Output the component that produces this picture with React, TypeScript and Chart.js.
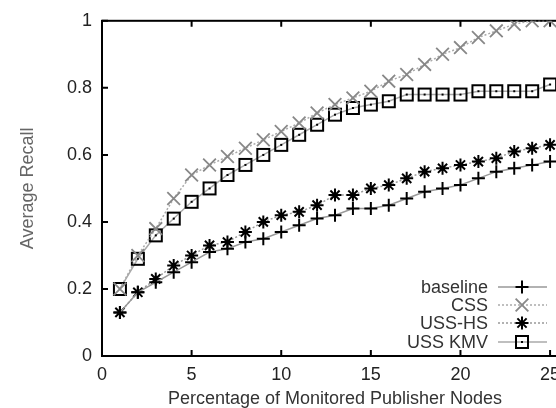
import { useEffect, useRef } from "react";
import { Chart, registerables } from "chart.js";
Chart.register(...registerables);

const xValues = [1, 2, 3, 4, 5, 6, 7, 8, 9, 10, 11, 12, 13, 14, 15, 16, 17, 18, 19, 20, 21, 22, 23, 24, 25];
const baselineValues = [0.13, 0.19, 0.22, 0.25, 0.28, 0.31, 0.32, 0.34, 0.35, 0.37, 0.39, 0.41, 0.42, 0.44, 0.44, 0.45, 0.47, 0.49, 0.5, 0.51, 0.53, 0.55, 0.56, 0.57, 0.58];
const cssValues = [0.2, 0.3, 0.38, 0.47, 0.54, 0.57, 0.595, 0.62, 0.645, 0.67, 0.695, 0.725, 0.75, 0.77, 0.79, 0.82, 0.84, 0.87, 0.9, 0.92, 0.95, 0.97, 0.99, 1.0, 1.0];
const ussHsValues = [0.13, 0.19, 0.23, 0.27, 0.3, 0.33, 0.34, 0.37, 0.4, 0.42, 0.43, 0.45, 0.48, 0.48, 0.5, 0.51, 0.53, 0.55, 0.56, 0.57, 0.58, 0.59, 0.61, 0.62, 0.63];
const ussKmvValues = [0.2, 0.29, 0.36, 0.41, 0.46, 0.5, 0.54, 0.57, 0.6, 0.63, 0.66, 0.69, 0.72, 0.74, 0.75, 0.76, 0.78, 0.78, 0.78, 0.78, 0.79, 0.79, 0.79, 0.79, 0.81];
const seriesLabels = ["baseline", "CSS", "USS-HS", "USS KMV"];
const xTickValues = [0, 5, 10, 15, 20, 25];
const yTickValues = [0, 0.2, 0.4, 0.6, 0.8, 1];
const yTickLabels = ["0", "0.2", "0.4", "0.6", "0.8", "1"];
const xTitle = "Percentage of Monitored Publisher Nodes";
const yTitle = "Average Recall";

const FONT = "'Liberation Sans', Arial, sans-serif";

function makeSquareStyle(): HTMLCanvasElement {
  const c = document.createElement("canvas");
  c.width = 16;
  c.height = 16;
  const g = c.getContext("2d")!;
  g.strokeStyle = "#000";
  g.lineWidth = 2;
  g.strokeRect(2, 2, 12, 12);
  g.fillStyle = "#000";
  g.fillRect(7, 7, 2, 2);
  return c;
}

function drawMarker(ctx: CanvasRenderingContext2D, style: any, x: number, y: number, r: number, color: string, lw: number) {
  ctx.save();
  ctx.strokeStyle = color;
  ctx.lineWidth = lw;
  ctx.setLineDash([]);
  if (typeof style !== "string") {
    ctx.drawImage(style, x - style.width / 2, y - style.height / 2);
    ctx.restore();
    return;
  }
  ctx.beginPath();
  if (style === "cross" || style === "star") {
    ctx.moveTo(x - r, y);
    ctx.lineTo(x + r, y);
    ctx.moveTo(x, y - r);
    ctx.lineTo(x, y + r);
  }
  if (style === "crossRot" || style === "star") {
    const d = r * Math.SQRT1_2;
    ctx.moveTo(x - d, y - d);
    ctx.lineTo(x + d, y + d);
    ctx.moveTo(x - d, y + d);
    ctx.lineTo(x + d, y - d);
  }
  ctx.stroke();
  ctx.restore();
}

const framePlugin = {
  id: "frameTicks",
  beforeDatasetsDraw(chart: any) {
    const { ctx, chartArea: a, scales } = chart;
    ctx.save();
    ctx.strokeStyle = "#000";
    ctx.lineWidth = 2;
    ctx.setLineDash([]);
    ctx.strokeRect(a.left, a.top, a.right - a.left, a.bottom - a.top);
    const tl = 6;
    ctx.beginPath();
    for (const v of xTickValues) {
      const px = scales.x.getPixelForValue(v);
      ctx.moveTo(px, a.bottom);
      ctx.lineTo(px, a.bottom - tl);
      ctx.moveTo(px, a.top);
      ctx.lineTo(px, a.top + tl);
    }
    for (const v of yTickValues) {
      const py = scales.y.getPixelForValue(v);
      ctx.moveTo(a.left, py);
      ctx.lineTo(a.left + tl, py);
      ctx.moveTo(a.right, py);
      ctx.lineTo(a.right - tl, py);
    }
    ctx.stroke();
    ctx.restore();
  },
};

const legendPlugin = {
  id: "gnuLegend",
  afterDatasetsDraw(chart: any) {
    const { ctx } = chart;
    const textRight = 488;
    const lineStart = 498;
    const lineEnd = 547;
    const markX = 522;
    const rowY = [287, 305, 323, 342];
    ctx.save();
    ctx.font = `18px ${FONT}`;
    ctx.textAlign = "right";
    ctx.textBaseline = "middle";
    chart.data.datasets.forEach((ds: any, i: number) => {
      const y = rowY[i];
      ctx.fillStyle = "#333";
      ctx.fillText(ds.label, textRight, y + 1);
      ctx.save();
      ctx.strokeStyle = ds.borderColor;
      ctx.lineWidth = ds.borderWidth;
      ctx.setLineDash(ds.borderDash || []);
      ctx.beginPath();
      ctx.moveTo(lineStart, y);
      ctx.lineTo(lineEnd, y);
      ctx.stroke();
      ctx.restore();
      drawMarker(ctx, ds.pointStyle, markX, y, ds.pointRadius, ds.pointBorderColor, ds.pointBorderWidth);
    });
    ctx.restore();
  },
};

export default function App() {
  const ref = useRef<HTMLCanvasElement | null>(null);
  useEffect(() => {
    if (!ref.current) return;
    const square = makeSquareStyle();
    const toPts = (vals: number[]) => xValues.map((x, i) => ({ x, y: vals[i] }));
    const chart = new Chart(ref.current, {
      type: "line",
      data: {
        datasets: [
          {
            label: seriesLabels[0],
            data: toPts(baselineValues),
            borderColor: "#999",
            borderWidth: 1.5,
            pointStyle: "cross",
            pointRadius: 6.5,
            pointBorderColor: "#000",
            pointBorderWidth: 2,
            pointBackgroundColor: "#000",
            tension: 0,
          },
          {
            label: seriesLabels[1],
            data: toPts(cssValues),
            borderColor: "#aaa",
            borderWidth: 1.5,
            borderDash: [2, 2],
            pointStyle: "crossRot",
            pointRadius: 9,
            pointBorderColor: "#888",
            pointBorderWidth: 1.8,
            tension: 0,
          },
          {
            label: seriesLabels[2],
            data: toPts(ussHsValues),
            borderColor: "#999",
            borderWidth: 1.5,
            borderDash: [2, 2],
            pointStyle: "star",
            pointRadius: 6.5,
            pointBorderColor: "#000",
            pointBorderWidth: 2,
            tension: 0,
          },
          {
            label: seriesLabels[3],
            data: toPts(ussKmvValues),
            borderColor: "#aaa",
            borderWidth: 1.5,
            pointStyle: square as any,
            pointRadius: 7,
            pointBorderColor: "#000",
            pointBorderWidth: 2,
            tension: 0,
          },
        ],
      },
      options: {
        animation: false,
        responsive: false,
        events: [],
        layout: { padding: { top: 18, right: 12, left: 0, bottom: 0 } },
        plugins: { legend: { display: false }, tooltip: { enabled: false } },
        scales: {
          x: {
            type: "linear",
            min: 0,
            max: 26,
            afterFit: (s: any) => {
              s.height = 52;
            },
            afterBuildTicks: (s: any) => {
              s.ticks = xTickValues.map((v) => ({ value: v }));
            },
            grid: { display: false, drawTicks: false },
            border: { display: false },
            ticks: {
              padding: 8,
              color: "#222",
              font: { family: FONT, size: 18 },
              maxRotation: 0,
              autoSkip: false,
              callback: (v: any) => String(v),
            },
            title: {
              display: true,
              text: xTitle,
              color: "#333",
              font: { family: FONT, size: 18 },
              padding: { top: 0, bottom: -2 },
            },
          },
          y: {
            type: "linear",
            min: 0,
            max: 1,
            afterFit: (s: any) => {
              s.width = 102;
            },
            afterBuildTicks: (s: any) => {
              s.ticks = yTickValues.map((v) => ({ value: v }));
            },
            grid: { display: false, drawTicks: false },
            border: { display: false },
            ticks: {
              padding: 10,
              color: "#222",
              font: { family: FONT, size: 18 },
              autoSkip: false,
              callback: (v: any) => {
                const i = yTickValues.indexOf(Number(v));
                return i >= 0 ? yTickLabels[i] : "";
              },
            },
            title: {
              display: true,
              text: yTitle,
              color: "#666",
              font: { family: FONT, size: 18 },
              padding: { top: 17, bottom: 0 },
            },
          },
        },
      },
      plugins: [framePlugin, legendPlugin],
    });
    return () => chart.destroy();
  }, []);
  return (
    <div style={{ position: "fixed", left: 0, top: 0, width: 556, height: 408, overflow: "hidden", background: "#fff" }}>
      <canvas ref={ref} width={580} height={408} style={{ display: "block" }} />
    </div>
  );
}
